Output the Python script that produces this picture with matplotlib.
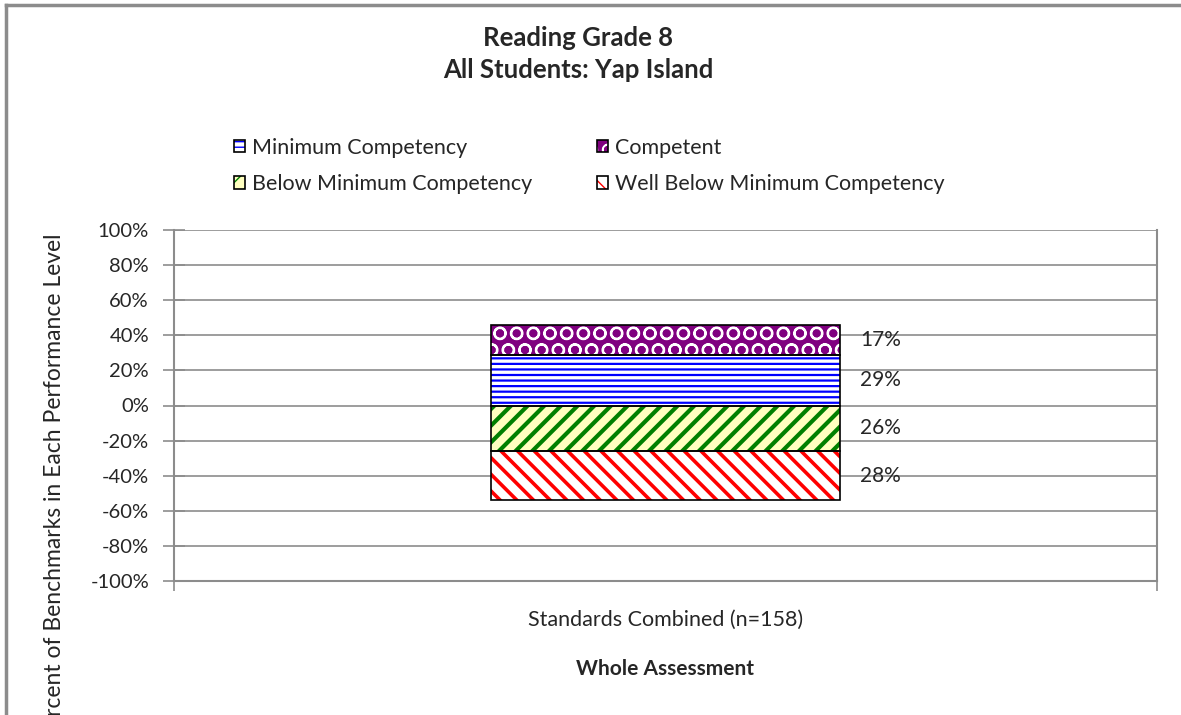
import matplotlib.pyplot as plt
from matplotlib.lines import Line2D
from matplotlib.patches import Patch

# data
category = ['Standards Combined (n=158)']
levels = ['Minimum Competency', 'Competent', 'Below Minimum Competency', 'Well Below Minimum Competency']
pct_min = [29]
pct_comp = [17]
pct_below = [26]
pct_well = [28]

plt.rcParams['font.family'] = ['Lato', 'DejaVu Sans']
txt = '#262626'

fig = plt.figure(figsize=(11.81, 7.15), dpi=100)
ax = fig.add_axes([174 / 1181, 1 - 581 / 715, (1157 - 174) / 1181, (581 - 230) / 715])

x = [0]
w = 0.356

# styles: (face, hatch, hatch colour, hatch lw)
styles = {
    'Minimum Competency': ('white', '---', '#0000FF', 1.6),
    'Competent': ('#800080', 'O', 'white', 1.5),
    'Below Minimum Competency': ('#FFFFC0', '//', '#008000', 3.0),
    'Well Below Minimum Competency': ('white', '\\\\', '#FF0000', 2.6),
}

def stacked(vals, bottom, name):
    face, hatch, hc, hlw = styles[name]
    ax.bar(x, vals, w, bottom=bottom, color=face, edgecolor='none', zorder=3)
    with plt.rc_context({'hatch.linewidth': hlw}):
        ax.bar(x, vals, w, bottom=bottom, color='none', edgecolor=hc, hatch=hatch, linewidth=0, zorder=4)
    ax.bar(x, vals, w, bottom=bottom, color='none', edgecolor='black', linewidth=1.2, zorder=5)

stacked(pct_min, [0], 'Minimum Competency')
stacked(pct_comp, pct_min, 'Competent')
neg_below = [-v for v in pct_below]
stacked(neg_below, [0], 'Below Minimum Competency')
neg_well = [-v for v in pct_well]
stacked(neg_well, neg_below, 'Well Below Minimum Competency')

# data labels
lx = 0.5 * w + 0.02
fs = 15
ax.text(lx, pct_min[0] + pct_comp[0] / 2, f'{pct_comp[0]}%', va='center', ha='left', fontsize=fs, color=txt, zorder=6)
ax.text(lx, pct_min[0] / 2, f'{pct_min[0]}%', va='center', ha='left', fontsize=fs, color=txt, zorder=6)
ax.text(lx, -pct_below[0] / 2, f'{pct_below[0]}%', va='center', ha='left', fontsize=fs, color=txt, zorder=6)
ax.text(lx, -pct_below[0] - pct_well[0] / 2, f'{pct_well[0]}%', va='center', ha='left', fontsize=fs, color=txt, zorder=6)

ax.set_xlim(-0.5, 0.5)
ax.set_ylim(-100, 100)
yt = list(range(-100, 101, 20))
ax.set_yticks(yt)
ax.set_yticklabels([f'{v}%' for v in yt], fontsize=14.5, color=txt)
ax.yaxis.grid(True, color='#8c8c8c', linewidth=1.2, zorder=0)
ax.set_axisbelow(True)
ax.set_xticks([-0.5, 0.5])
ax.set_xticklabels([])
ax.tick_params(axis='y', direction='inout', length=16, color='#8c8c8c', width=1.2, pad=10)
ax.tick_params(axis='x', direction='inout', length=14, color='#8c8c8c', width=1.2)
for s in ['left', 'bottom', 'right']:
    ax.spines[s].set_color('#8c8c8c')
    ax.spines[s].set_linewidth(1.5)
ax.spines['top'].set_visible(False)

ax.text(0, -0.11, category[0], transform=ax.get_xaxis_transform(), ha='center', va='center',
        fontsize=15.5, color=txt)
ax.text(0, -0.25, 'Whole Assessment', transform=ax.get_xaxis_transform(), ha='center', va='center',
        fontsize=15, fontweight='bold', color=txt)

fig.text(55 / 1181, 1 - 488 / 715, 'Percent of Benchmarks in Each Performance Level', rotation=90,
         ha='center', va='center', fontsize=16.5, color=txt)

fig.text(578 / 1181, 1 - 38 / 715, 'Reading Grade 8', ha='center', va='center', fontsize=18.5,
         fontweight='bold', color=txt)
fig.text(578 / 1181, 1 - 70 / 715, 'All Students: Yap Island', ha='center', va='center', fontsize=18.5,
         fontweight='bold', color=txt)

# legend
handles = []
order = ['Minimum Competency', 'Below Minimum Competency', 'Competent', 'Well Below Minimum Competency']
for name in order:
    face, hatch, hc, hlw = styles[name]
    handles.append((Patch(facecolor=face, edgecolor=hc, hatch=hatch, linewidth=0),
                    Patch(facecolor='none', edgecolor='black', linewidth=1.2)))
leg = fig.legend(handles=handles, labels=order, ncol=2, loc='center left',
                 bbox_to_anchor=(234 / 1181, 1 - 166 / 715),
                 frameon=False, fontsize=15.5, handlelength=0.5, handleheight=0.5, handletextpad=0.35,
                 columnspacing=3.0, labelspacing=0.75, borderaxespad=0, borderpad=0)
for t in leg.get_texts():
    t.set_color(txt)

# outer chart border (cropped)
fig.add_artist(Line2D([6 / 1181, 6 / 1181], [0, 1 - 5 / 715], transform=fig.transFigure, color='#8c8c8c', lw=2.5))
fig.add_artist(Line2D([6 / 1181, 1], [1 - 5 / 715, 1 - 5 / 715], transform=fig.transFigure, color='#8c8c8c', lw=2.5))

fig.savefig('out.png', dpi=100)
